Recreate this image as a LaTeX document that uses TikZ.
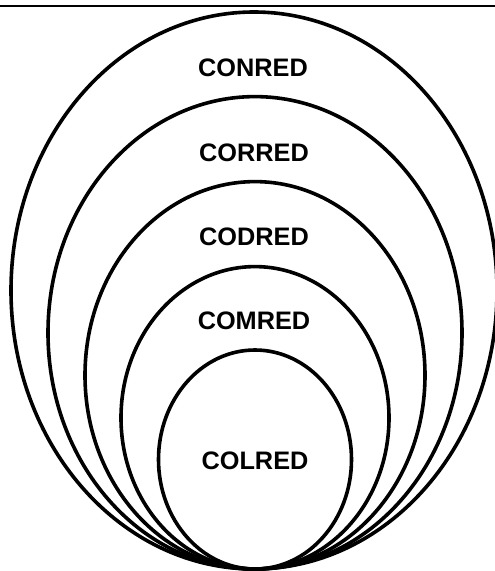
\documentclass[tikz,border=0pt]{standalone}
\usepackage{fontspec}
\setmainfont{Liberation Sans}
\begin{document}
\begin{tikzpicture}[x=1pt,y=-1pt,
  ring/.style={draw=black,line width=3.6pt},
  lbl/.style={font=\fontsize{25.3}{29}\selectfont\bfseries,inner sep=0pt,anchor=center}]
\useasboundingbox (0,0) rectangle (495,571);
\fill[white] (0,0) rectangle (495,571);
\begin{scope}
\clip (0,0) rectangle (495,571);
\draw[line width=2pt] (0,5.7) -- (495,5.7);
\draw[ring] (254,290.5) ellipse [x radius=243, y radius=278.5];
\draw[ring] (255,332.8) ellipse [x radius=207, y radius=236.2];
\draw[ring] (255,375.3) ellipse [x radius=170, y radius=193.7];
\draw[ring] (255,417.8) ellipse [x radius=134, y radius=151.2];
\draw[ring] (255,459.5) ellipse [x radius=96.5, y radius=109.5];
\end{scope}
\node[lbl] (conred) at (253,67.5) {CONRED};
\node[lbl] (corred) at (254,152.5) {CORRED};
\node[lbl] (codred) at (254,237) {CODRED};
\node[lbl] (comred) at (254,320.5) {COMRED};
\node[lbl] (colred) at (255,461) {COLRED};
\end{tikzpicture}
\end{document}
